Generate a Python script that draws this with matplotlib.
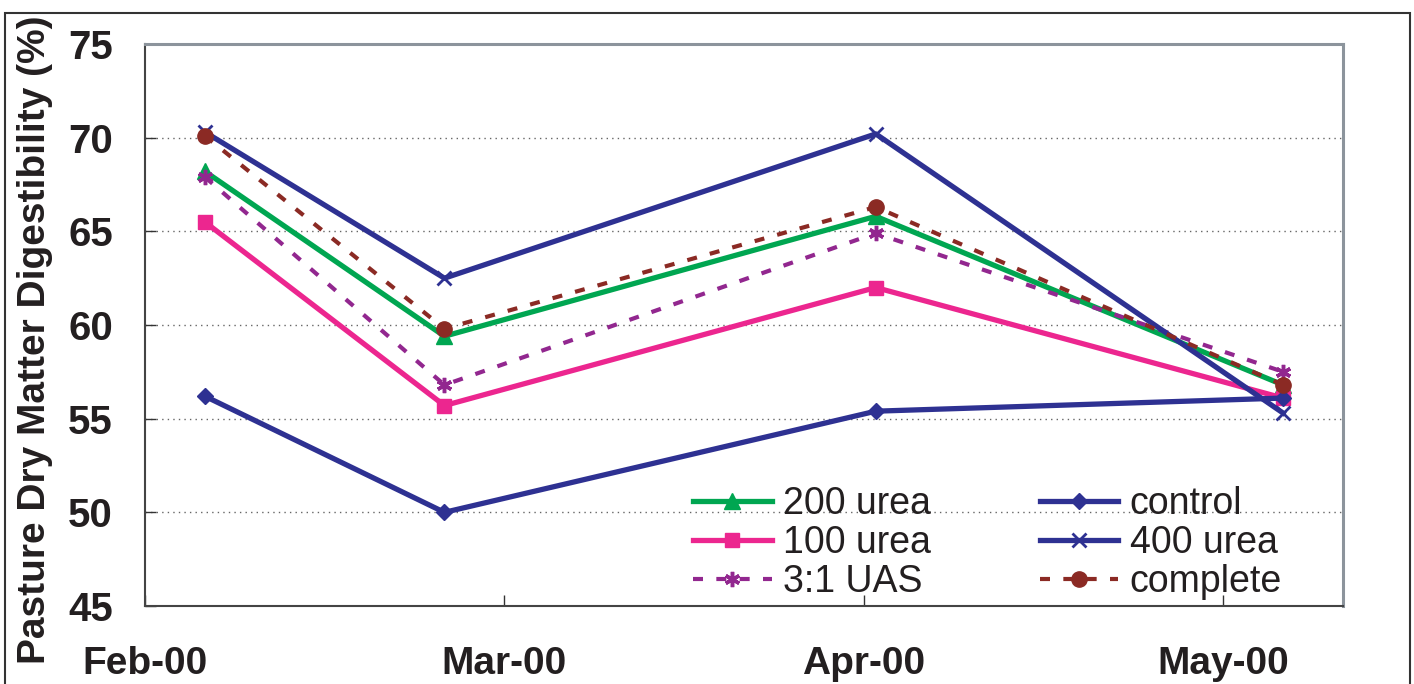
import numpy as np
import matplotlib
matplotlib.use('Agg')
import matplotlib.pyplot as plt
import matplotlib.dates as mdates
from matplotlib.patches import Rectangle
from datetime import datetime, timedelta

plt.rcParams['font.family'] = ['Liberation Sans', 'DejaVu Sans']

# Sampling dates and digestibility (%) per treatment
dates = [datetime(2000, 2, 6), datetime(2000, 2, 26), datetime(2000, 4, 2), datetime(2000, 5, 6)]
urea_200 = [68.2, 59.4, 65.8, 56.8]
urea_100 = [65.5, 55.7, 62.0, 56.1]
uas_31 = [67.9, 56.8, 64.9, 57.5]
control = [56.2, 50.0, 55.4, 56.1]
urea_400 = [70.3, 62.5, 70.2, 55.3]
complete = [70.1, 59.8, 66.3, 56.8]

fig = plt.figure(figsize=(14.14, 6.84), dpi=100)
ax = fig.add_axes([0.1025, 0.114, 0.8473, 0.8217])

solid = dict(lw=3.8)
dashed = dict(lw=3.0, linestyle=(0, (2.4, 3.2)))

l1, = ax.plot(dates, urea_200, color='#00A651', marker='^', ms=11, label='200 urea', **solid)
l2, = ax.plot(dates, urea_100, color='#EC268F', marker='s', ms=10, label='100 urea', **solid)
l3, = ax.plot(dates, uas_31, color='#92278F', marker=(6, 2, 0), ms=11, mew=2.5, label='3:1 UAS', **dashed)
l4, = ax.plot(dates, control, color='#2E3192', marker='D', ms=8, label='control', **solid)
l5, = ax.plot(dates, urea_400, color='#2E3192', marker='x', ms=10, mew=2, label='400 urea', **solid)
l6, = ax.plot(dates, complete, color='#8B2A24', marker='o', ms=11, label='complete', **dashed)

start = datetime(2000, 2, 1)
ax.set_xlim(start, start + timedelta(days=100))
ax.set_xticks([start + timedelta(days=30 * i) for i in range(4)])
ax.xaxis.set_major_formatter(mdates.DateFormatter('%b-%y'))
ax.set_ylim(45, 75)
ax.set_yticks(np.arange(45, 76, 5))

ax.grid(axis='y', color='#666666', linestyle=(0, (1, 3)), lw=1)
ax.tick_params(axis='both', direction='in', length=8, width=1, color='#333333')
ax.tick_params(axis='x', pad=29, labelsize=28)
ax.tick_params(axis='y', pad=23, labelsize=29)
for lab in ax.get_xticklabels() + ax.get_yticklabels():
    lab.set_fontweight('bold')
    lab.set_color('#231f20')

for side in ['top', 'right']:
    ax.spines[side].set_color('#8c949c')
    ax.spines[side].set_linewidth(2.2)
for side in ['left', 'bottom']:
    ax.spines[side].set_color('#444444')
    ax.spines[side].set_linewidth(1.5)

fig.text(0.0248, 0.503, 'Pasture Dry Matter Digestibility (%)', rotation=90,
         ha='center', va='center', fontsize=28, fontweight='bold', color='#231f20')

leg = ax.legend(handles=[l1, l2, l3, l4, l5, l6], ncol=2, frameon=False,
                loc='lower left', bbox_to_anchor=(693 / 1414, 1 - 600 / 684),
                bbox_transform=fig.transFigure, borderpad=0, borderaxespad=0,
                fontsize=27, handlelength=2.1, handletextpad=0.3,
                columnspacing=2.9, labelspacing=0.08)
for t in leg.get_texts():
    t.set_color('#231f20')

# outer frame around the whole figure
fig.patches.append(Rectangle((5 / 1414, -0.02), 1405 / 1414, 1.0 - 13 / 684 + 0.02,
                             transform=fig.transFigure, fill=False,
                             edgecolor='#333333', lw=1.5))

plt.savefig('out.png', dpi=100)
